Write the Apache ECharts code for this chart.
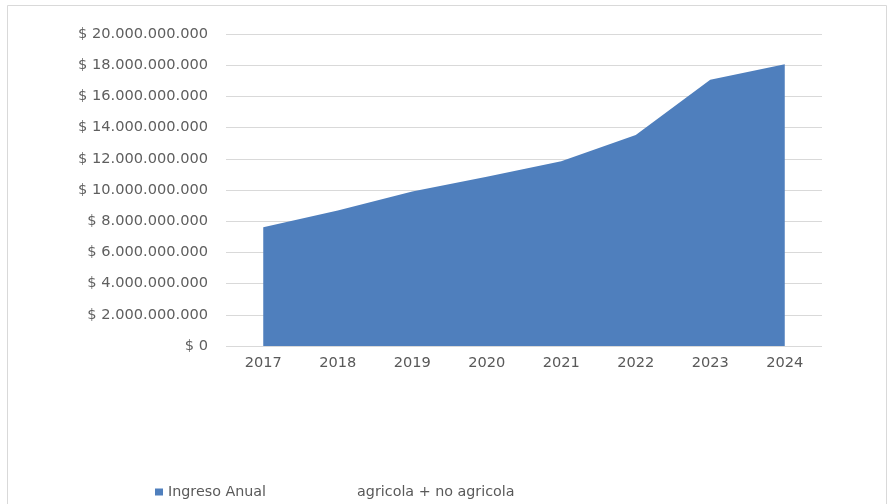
<!DOCTYPE html>
<html>
<head>
<meta charset="utf-8">
<script src="https://cdn.jsdelivr.net/npm/echarts@6/dist/echarts.min.js"></script>
<style>
html,body{margin:0;padding:0;background:#fff;}
#chart{width:893px;height:504px;}
</style>
</head>
<body>
<div id="chart"></div>
<script>
const categories = ['2017', '2018', '2019', '2020', '2021', '2022', '2023', '2024'];
const ingresoAnual = [7620000000, 8680000000, 9900000000, 10850000000, 11840000000, 13530000000, 17060000000, 18060000000];
const seriesNames = ['Ingreso Anual', 'agricola + no agricola'];
const yMin = 0, yMax = 20000000000, yInterval = 2000000000;

function fmt(v) {
  const s = Math.round(v).toString().replace(/\B(?=(\d{3})+(?!\d))/g, '.');
  return '$ ' + s;
}

const chart = echarts.init(document.getElementById('chart'), null, {renderer: 'canvas'});
const FONT = 'DejaVu Sans';
chart.setOption({
  animation: false,
  backgroundColor: '#ffffff',
  textStyle: {fontFamily: FONT},
  graphic: [{
    type: 'rect',
    left: 5, top: 3,
    shape: {width: 879, height: 520},
    style: {fill: 'none', stroke: '#d9d9d9', lineWidth: 1},
    silent: true
  }],
  grid: {left: 226, right: 71, top: 34, bottom: 158, containLabel: false},
  legend: {
    left: 150, top: 480,
    itemWidth: 8, itemHeight: 7, itemGap: 78,
    icon: 'rect',
    textStyle: {color: '#595959', fontSize: 14.3, fontFamily: FONT},
    data: seriesNames
  },
  xAxis: {
    type: 'category',
    data: categories,
    boundaryGap: true,
    axisLine: {show: false},
    axisTick: {show: false},
    axisLabel: {color: '#595959', fontSize: 14.6, margin: 10, fontFamily: FONT}
  },
  yAxis: {
    type: 'value',
    min: yMin, max: yMax, interval: yInterval,
    axisLine: {show: false},
    axisTick: {show: false},
    splitLine: {lineStyle: {color: '#d9d9d9', width: 1}},
    axisLabel: {color: '#5f5f5f', fontSize: 14.6, margin: 18, fontFamily: FONT, formatter: fmt}
  },
  series: [{
    name: seriesNames[0],
    type: 'line',
    data: ingresoAnual,
    symbol: 'none',
    lineStyle: {width: 0},
    itemStyle: {color: '#4f7fbd'},
    areaStyle: {color: '#4f7fbd', opacity: 1}
  }, {
    name: seriesNames[1],
    type: 'line',
    data: [],
    symbol: 'none',
    itemStyle: {color: 'rgba(255,255,255,0)'},
    lineStyle: {width: 0}
  }]
});
</script>
</body>
</html>
